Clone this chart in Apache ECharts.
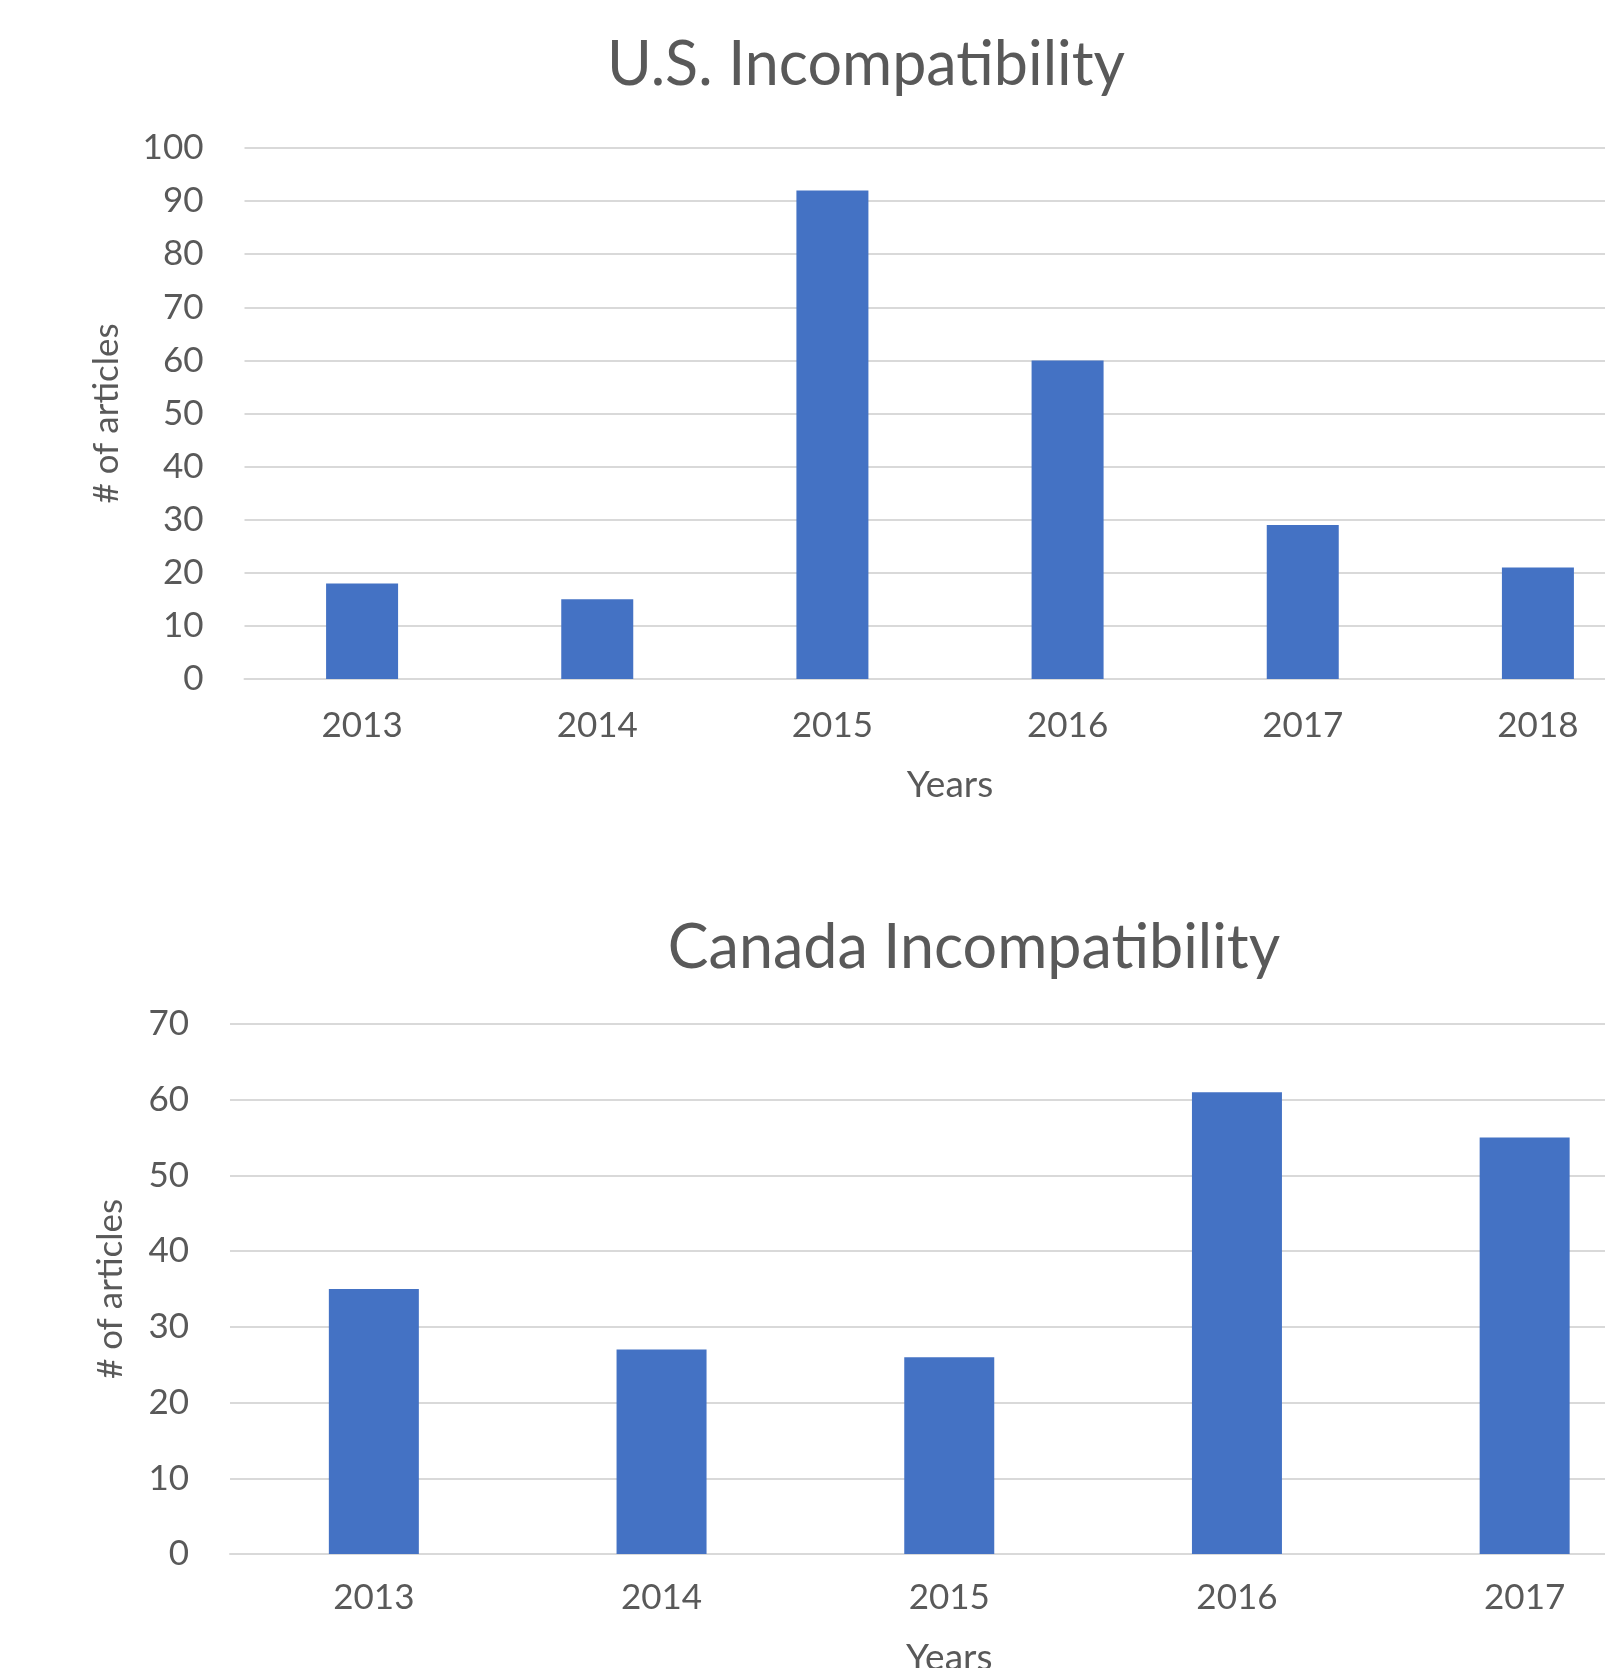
<!DOCTYPE html>
<html>
<head>
<meta charset="utf-8">
<script src="https://cdn.jsdelivr.net/npm/echarts@6/dist/echarts.min.js"></script>
<style>
  html, body { margin: 0; padding: 0; background: #fff; }
  #main { width: 1605px; height: 1668px; }
</style>
</head>
<body>
<div id="main"></div>
<script>
// U.S. chart data
const usYears = ['2013', '2014', '2015', '2016', '2017', '2018'];
const usArticles = [18, 15, 92, 60, 29, 21];

// Canada chart data
const caYears = ['2013', '2014', '2015', '2016', '2017'];
const caArticles = [35, 27, 26, 61, 55];

const usTicks = { min: 0, max: 100, interval: 10 };
const caTicks = { min: 0, max: 70, interval: 10 };

const textColor = '#595959';
const gridColor = '#D9D9D9';
const barColor = '#4472C4';
const font = 'Lato';

function xAxisFor(years, gridIndex, margin, gap) {
  return {
    type: 'category',
    gridIndex: gridIndex,
    data: years,
    name: 'Years',
    nameLocation: 'middle',
    nameGap: gap,
    nameTextStyle: { color: textColor, fontSize: 37, fontFamily: font },
    axisLine: { lineStyle: { color: gridColor, width: 2 } },
    axisTick: { show: false },
    axisLabel: { color: textColor, fontSize: 35, fontFamily: font, margin: margin }
  };
}

function yAxisFor(ticks, gridIndex, gap) {
  return {
    type: 'value',
    gridIndex: gridIndex,
    min: ticks.min,
    max: ticks.max,
    interval: ticks.interval,
    name: '# of articles',
    nameLocation: 'middle',
    nameGap: gap,
    nameTextStyle: { color: textColor, fontSize: 35, fontFamily: font },
    axisLine: { show: false },
    axisTick: { show: false },
    axisLabel: { color: textColor, fontSize: 35, fontFamily: font, margin: 41 },
    splitLine: { lineStyle: { color: gridColor, width: 2 } }
  };
}

let myChart = echarts.init(document.getElementById('main'));

let option = {
  backgroundColor: '#fff',
  animation: false,
  title: [
    {
      text: 'U.S. Incompatibility',
      left: 861, top: 30, textAlign: 'center',
      textStyle: { color: textColor, fontSize: 61, fontWeight: 'normal', fontFamily: font }
    },
    {
      text: 'Canada Incompatibility',
      left: 969, top: 913, textAlign: 'center',
      textStyle: { color: textColor, fontSize: 61, fontWeight: 'normal', fontFamily: font }
    }
  ],
  grid: [
    { left: 244.5, top: 148, width: 1411, height: 531, outerBoundsMode: 'none' },
    { left: 230, top: 1024, width: 1438.5, height: 530, outerBoundsMode: 'none' }
  ],
  xAxis: [
    xAxisFor(usYears, 0, 29, 88),
    xAxisFor(caYears, 1, 26, 86)
  ],
  yAxis: [
    yAxisFor(usTicks, 0, 120),
    yAxisFor(caTicks, 1, 102)
  ],
  series: [
    {
      type: 'bar',
      xAxisIndex: 0, yAxisIndex: 0,
      data: usArticles,
      barWidth: 72,
      itemStyle: { color: barColor }
    },
    {
      type: 'bar',
      xAxisIndex: 1, yAxisIndex: 1,
      data: caArticles,
      barWidth: 90,
      itemStyle: { color: barColor }
    }
  ]
};

myChart.setOption(option);
</script>
</body>
</html>
